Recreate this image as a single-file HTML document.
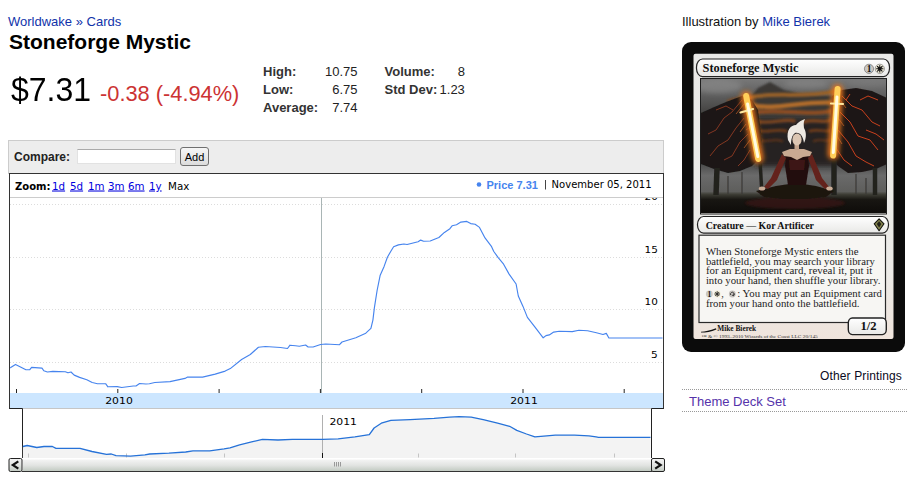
<!DOCTYPE html>
<html lang="en">
<head>
<meta charset="utf-8">
<title>Stoneforge Mystic</title>
<style>
html,body{margin:0;padding:0;background:#fff;}
body{width:916px;height:479px;position:relative;overflow:hidden;font-family:"Liberation Sans",Arial,sans-serif;font-size:13px;color:#000;}
a{text-decoration:none;color:#1133aa;}
.abs{position:absolute;white-space:nowrap;}
#crumb{left:8px;top:14px;font-size:13px;line-height:16px;color:#1133aa;}
#title{left:9px;top:30px;font-size:21px;line-height:24px;font-weight:bold;color:#000;}
#price{left:10.5px;top:71.5px;font-size:33px;line-height:36px;color:#000;transform:scaleX(0.97);transform-origin:0 0;}
#change{left:100px;top:82px;font-size:21.8px;line-height:24px;color:#cc3333;}
#stats{left:263px;top:63px;border-collapse:collapse;font-size:13px;line-height:18px;color:#222;}
#stats td{padding:0;white-space:nowrap;}
#stats th{padding:0;text-align:left;font-weight:bold;color:#333;white-space:nowrap;}
#stats td{text-align:right;}
#cmpbox{left:8px;top:140px;width:654px;height:33px;border:1px solid #ccc;border-bottom:none;background:#ededed;}
#cmplabel{left:14px;top:149px;font-size:12px;line-height:16px;font-weight:bold;color:#222;}
#cmpinput{left:77px;top:149px;width:97px;height:13px;border:1px solid #e2e2e2;border-top-color:#aaa;background:#fff;}
#cmpbtn{left:180px;top:147px;width:27px;height:16px;padding-top:1px;border:1px solid #707070;border-radius:3px;background:linear-gradient(#f6f6f6,#dcdcdc);font-size:11px;line-height:17px;text-align:center;color:#000;}
#chart{left:8px;top:172px;}
#illus{left:682px;top:14px;font-size:13px;line-height:16px;color:#111;}
#card{left:682px;top:42px;width:223px;height:310px;}
#other{left:681px;top:368px;width:221px;text-align:right;font-size:12px;letter-spacing:0.13px;line-height:16px;color:#0a0a22;}
.dot{left:682px;width:225px;height:0;border-top:1px dotted #999;}
#theme{left:689px;top:393.6px;font-size:13px;line-height:16px;color:#5533aa;}
</style>
</head>
<body>
<div id="crumb" class="abs"><a href="#">Worldwake</a> » <a href="#">Cards</a></div>
<div id="title" class="abs">Stoneforge Mystic</div>
<div id="price" class="abs">$7.31</div>
<div id="change" class="abs">-0.38 (-4.94%)</div>
<table id="stats" class="abs">
<tr><th style="width:62px">High:</th><td style="width:31px">10.75</td><th style="width:55px;padding-left:27px">Volume:</th><td style="width:25px">8</td></tr>
<tr><th>Low:</th><td>6.75</td><th style="padding-left:27px">Std Dev:</th><td>1.23</td></tr>
<tr><th>Average:</th><td>7.74</td><th></th><td></td></tr>
</table>

<div id="cmpbox" class="abs"></div>
<div id="cmplabel" class="abs">Compare:</div>
<div id="cmpinput" class="abs"></div>
<div id="cmpbtn" class="abs">Add</div>

<svg id="chart" class="abs" width="658" height="302" viewBox="8 172 658 302" font-family="DejaVu Sans, Verdana, sans-serif" font-size="11">
<!-- CHART -->
<rect x="9.5" y="173.5" width="654" height="235" fill="#fff" stroke="#333"/>
<rect x="22.5" y="408.5" width="629" height="50" fill="#fff" stroke="none"/>
<line x1="10" x2="663" y1="197.5" y2="197.5" stroke="#ccc"/>
<clipPath id="plot"><rect x="10" y="198" width="653" height="195"/></clipPath>
<g clip-path="url(#plot)">
<line x1="10" x2="663" y1="204.5" y2="204.5" stroke="#dcdcdc" stroke-dasharray="1 2"/>
<line x1="10" x2="663" y1="257.5" y2="257.5" stroke="#dcdcdc" stroke-dasharray="1 2"/>
<line x1="10" x2="663" y1="309.5" y2="309.5" stroke="#dcdcdc" stroke-dasharray="1 2"/>
<line x1="10" x2="663" y1="362.5" y2="362.5" stroke="#dcdcdc" stroke-dasharray="1 2"/>
<line x1="321.5" x2="321.5" y1="198" y2="393" stroke="#a9b5b5"/>
<text x="644.5" y="199.9" fill="#000" font-size="9.5" textLength="13.3" lengthAdjust="spacingAndGlyphs">20</text>
<text x="644.5" y="252.9" fill="#000" font-size="9.5" textLength="13.3" lengthAdjust="spacingAndGlyphs">15</text>
<text x="644.5" y="304.9" fill="#000" font-size="9.5" textLength="13.3" lengthAdjust="spacingAndGlyphs">10</text>
<text x="651.0999999999999" y="357.9" fill="#000" font-size="9.5" textLength="6.7" lengthAdjust="spacingAndGlyphs">5</text>
<path d="M10.0,367.8 L10.7,367.6 L15.5,364.4 L20.5,367.0 L25.9,369.7 L29.8,369.7 L31.6,367.4 L42.0,368.1 L43.8,370.8 L47.4,372.0 L52.8,371.4 L65.3,371.7 L68.0,372.8 L71.0,372.0 L74.2,375.1 L79.6,377.4 L86.8,379.8 L92.2,382.5 L97.5,383.7 L105.6,383.7 L107.9,386.8 L117.2,386.6 L121.7,387.5 L133.3,386.0 L136.0,386.0 L139.6,383.5 L145.9,384.0 L149.4,383.7 L154.8,382.5 L170.0,381.6 L185.0,378.4 L187.6,377.1 L202.6,377.1 L215.2,374.1 L225.2,371.1 L230.3,368.6 L241.6,359.5 L250.3,354.5 L258.4,347.2 L265.4,346.5 L280.5,347.5 L287.5,348.5 L290.0,345.2 L295.5,345.7 L299.3,346.2 L305.6,345.0 L308.1,347.0 L313.1,347.0 L320.6,344.5 L325.7,344.0 L339.5,344.7 L342.0,342.0 L355.8,337.7 L365.8,333.2 L370.9,328.4 L372.9,320.1 L374.4,307.6 L377.1,290.5 L380.2,275.2 L384.1,266.4 L387.4,257.2 L390.7,251.5 L393.6,246.7 L398.4,244.9 L403.9,244.0 L407.1,244.5 L418.1,241.8 L420.7,240.1 L423.6,241.2 L430.2,241.0 L438.9,237.5 L444.4,232.4 L449.9,228.7 L452.1,225.8 L456.5,224.7 L460.9,222.1 L466.8,221.4 L470.7,223.6 L475.1,224.3 L479.5,227.4 L485.0,237.9 L491.6,246.7 L493.8,251.5 L498.2,257.6 L503.6,264.2 L509.1,274.1 L516.1,284.0 L518.3,296.0 L523.0,306.4 L527.4,317.4 L535.0,327.2 L543.2,337.8 L546.0,335.6 L549.3,334.9 L553.7,332.1 L559.2,331.2 L572.3,331.6 L578.9,330.3 L587.6,330.8 L596.4,332.7 L603.0,334.5 L606.3,333.4 L608.9,338.0 L662.5,338.0" fill="none" stroke="#4684ee" stroke-width="1.15" stroke-linejoin="round"/>
</g>
<line x1="16.5" x2="16.5" y1="389" y2="393" stroke="#222"/>
<line x1="117.8" x2="117.8" y1="389" y2="393" stroke="#222"/>
<line x1="219.1" x2="219.1" y1="389" y2="393" stroke="#222"/>
<line x1="320.4" x2="320.4" y1="389" y2="393" stroke="#222"/>
<line x1="421.7" x2="421.7" y1="389" y2="393" stroke="#222"/>
<line x1="523.0" x2="523.0" y1="389" y2="393" stroke="#222"/>
<line x1="624.2" x2="624.2" y1="389" y2="393" stroke="#222"/>
<rect x="10" y="393" width="653" height="15" fill="#cce6ff"/>
<text x="105.2" y="404" fill="#000" font-size="9.5" textLength="27.6" lengthAdjust="spacingAndGlyphs">2010</text>
<text x="510.2" y="404" fill="#000" font-size="9.5" textLength="27.6" lengthAdjust="spacingAndGlyphs">2011</text>
<text x="15" y="189.5" font-weight="bold" fill="#000" font-size="10.4" textLength="35.5" lengthAdjust="spacingAndGlyphs">Zoom:</text>
<text x="52" y="189.5" fill="#0000dd" font-size="10.3" text-decoration="underline">1d</text>
<text x="70" y="189.5" fill="#0000dd" font-size="10.3" text-decoration="underline">5d</text>
<text x="88" y="189.5" fill="#0000dd" font-size="10.3" text-decoration="underline">1m</text>
<text x="108" y="189.5" fill="#0000dd" font-size="10.3" text-decoration="underline">3m</text>
<text x="128" y="189.5" fill="#0000dd" font-size="10.3" text-decoration="underline">6m</text>
<text x="149" y="189.5" fill="#0000dd" font-size="10.3" text-decoration="underline">1y</text>
<text x="168" y="189.5" fill="#000" font-size="10.3">Max</text>
<circle cx="479" cy="184.5" r="2.3" fill="#4684ee"/>
<text x="486.5" y="189" font-family="Liberation Sans, Arial, sans-serif" font-weight="bold" font-size="11" fill="#4684ee">Price 7.31</text>
<line x1="545.5" x2="545.5" y1="180" y2="189.5" stroke="#444"/>
<text x="551.6" y="188.3" fill="#000" font-size="9.7" textLength="100" lengthAdjust="spacingAndGlyphs">November 05, 2011</text>
<line x1="22" x2="652" y1="408.5" y2="408.5" stroke="#c6c6c6"/>
<path d="M9.5,408.5 H22.5 V458" fill="none" stroke="#222"/>
<path d="M663.5,408.5 H651.5 V458" fill="none" stroke="#222"/>
<path d="M22.9,446.5 L27.2,445.5 L36.8,447.5 L44.0,446.5 L52.4,446.5 L56.0,448.4 L80.0,448.4 L92.0,451.5 L106.5,454.4 L111.3,454.0 L116.0,455.6 L130.5,456.1 L144.9,454.9 L149.7,454.0 L168.9,453.2 L185.7,452.0 L192.9,450.8 L209.7,450.8 L224.1,448.9 L230.0,447.9 L239.6,444.8 L251.6,441.9 L262.4,439.3 L278.0,440.0 L292.4,439.3 L322.5,439.3 L338.1,438.8 L354.9,436.9 L369.3,434.7 L374.1,428.0 L381.3,423.2 L390.9,420.3 L410.1,419.6 L434.1,418.4 L449.6,417.2 L459.2,416.7 L471.2,417.2 L483.2,419.6 L497.6,423.2 L509.6,426.3 L516.8,430.4 L526.5,434.0 L534.9,436.9 L540.9,436.4 L555.3,435.2 L574.5,435.2 L588.9,435.9 L596.1,436.9 L598.5,437.4 L650.5,437.4 L650.5,458 L22.9,458 Z" fill="#f3f3f3" stroke="none"/>
<line x1="322.5" x2="322.5" y1="415" y2="457" stroke="#b0b0b0"/>
<line x1="28.5" x2="28.5" y1="453.5" y2="457.5" stroke="#c4c4c4"/>
<line x1="126.5" x2="126.5" y1="453.5" y2="457.5" stroke="#c4c4c4"/>
<line x1="224.5" x2="224.5" y1="453.5" y2="457.5" stroke="#c4c4c4"/>
<line x1="322.5" x2="322.5" y1="453.5" y2="457.5" stroke="#c4c4c4"/>
<line x1="418.5" x2="418.5" y1="453.5" y2="457.5" stroke="#c4c4c4"/>
<line x1="515.5" x2="515.5" y1="453.5" y2="457.5" stroke="#c4c4c4"/>
<line x1="614.5" x2="614.5" y1="453.5" y2="457.5" stroke="#c4c4c4"/>
<line x1="322.5" x2="322.5" y1="453" y2="458" stroke="#111"/>
<path d="M22.9,446.5 L27.2,445.5 L36.8,447.5 L44.0,446.5 L52.4,446.5 L56.0,448.4 L80.0,448.4 L92.0,451.5 L106.5,454.4 L111.3,454.0 L116.0,455.6 L130.5,456.1 L144.9,454.9 L149.7,454.0 L168.9,453.2 L185.7,452.0 L192.9,450.8 L209.7,450.8 L224.1,448.9 L230.0,447.9 L239.6,444.8 L251.6,441.9 L262.4,439.3 L278.0,440.0 L292.4,439.3 L322.5,439.3 L338.1,438.8 L354.9,436.9 L369.3,434.7 L374.1,428.0 L381.3,423.2 L390.9,420.3 L410.1,419.6 L434.1,418.4 L449.6,417.2 L459.2,416.7 L471.2,417.2 L483.2,419.6 L497.6,423.2 L509.6,426.3 L516.8,430.4 L526.5,434.0 L534.9,436.9 L540.9,436.4 L555.3,435.2 L574.5,435.2 L588.9,435.9 L596.1,436.9 L598.5,437.4 L650.5,437.4" fill="none" stroke="#2672d8" stroke-width="1.3" stroke-linejoin="round"/>
<text x="329.4" y="425" fill="#000" font-size="9.5" textLength="27.6" lengthAdjust="spacingAndGlyphs">2011</text>
<defs><linearGradient id="sb" x1="0" y1="0" x2="0" y2="1"><stop offset="0" stop-color="#f4f4f4"/><stop offset="0.5" stop-color="#e2e4e2"/><stop offset="1" stop-color="#c2cac2"/></linearGradient></defs>
<rect x="23" y="458" width="628" height="1.5" fill="#fff"/>
<rect x="23" y="459.5" width="628" height="11.5" fill="url(#sb)"/>
<line x1="22" x2="652" y1="471.5" y2="471.5" stroke="#333"/>
<line x1="334.5" x2="334.5" y1="462" y2="466.5" stroke="#999"/>
<line x1="336.5" x2="336.5" y1="462" y2="466.5" stroke="#999"/>
<line x1="338.5" x2="338.5" y1="462" y2="466.5" stroke="#999"/>
<line x1="340.5" x2="340.5" y1="462" y2="466.5" stroke="#999"/>
<rect x="9" y="458.5" width="13" height="13" rx="1.5" fill="url(#sb)" stroke="#222"/>
<path d="M18.3,461.3 L12.8,465 L18.3,468.7" fill="none" stroke="#111" stroke-width="2.2"/>
<rect x="651.5" y="458.5" width="13" height="13" rx="1.5" fill="url(#sb)" stroke="#222"/>
<path d="M655.2,461.3 L660.7,465 L655.2,468.7" fill="none" stroke="#111" stroke-width="2.2"/>
</svg>

<div id="illus" class="abs">Illustration by <a href="#">Mike Bierek</a></div>
<div id="card" class="abs">
<!-- CARD -->
<svg width="223" height="310" viewBox="682 42 223 310" style="display:block">
<defs>
<filter id="b1" x="-50%" y="-20%" width="200%" height="140%"><feGaussianBlur stdDeviation="1.2"/></filter>
<filter id="b2" x="-50%" y="-50%" width="200%" height="200%"><feGaussianBlur stdDeviation="2.5"/></filter>
<filter id="b3" x="-20%" y="-20%" width="140%" height="140%"><feGaussianBlur stdDeviation="0.6"/></filter>
<linearGradient id="sky" x1="0" y1="0" x2="0" y2="1"><stop offset="0" stop-color="#787878"/><stop offset="0.12" stop-color="#5e5e5e"/><stop offset="0.3" stop-color="#3a3836"/><stop offset="0.5" stop-color="#2b2927"/><stop offset="0.64" stop-color="#4e4e4e"/><stop offset="0.72" stop-color="#6a6a6a"/><stop offset="0.84" stop-color="#5e5e5c"/><stop offset="0.86" stop-color="#3e3e36"/><stop offset="0.9" stop-color="#181612"/><stop offset="1" stop-color="#0e0c0a"/></linearGradient>
<linearGradient id="frame" x1="0" y1="0" x2="0" y2="1"><stop offset="0" stop-color="#e9e9e7"/><stop offset="0.75" stop-color="#ecebe8"/><stop offset="1" stop-color="#efe4dc"/></linearGradient>
<linearGradient id="bar" x1="0" y1="0" x2="0" y2="1"><stop offset="0" stop-color="#ffffff"/><stop offset="1" stop-color="#e8e8e6"/></linearGradient>
<clipPath id="art"><rect x="701" y="79" width="185" height="134.5"/></clipPath>
</defs>
<rect x="682" y="42" width="223" height="310" rx="9" ry="9" fill="#0b0b0b"/>
<rect x="693.5" y="53.7" width="200" height="285.3" rx="2" fill="url(#frame)"/>
<g clip-path="url(#art)">
<rect x="701" y="79" width="185.5" height="134" fill="url(#sky)"/>
<ellipse cx="718" cy="86" rx="24" ry="7" fill="#8c8c8c" opacity="0.6" filter="url(#b2)"/>
<ellipse cx="806" cy="84" rx="22" ry="5" fill="#8a8a8a" opacity="0.55" filter="url(#b2)"/><ellipse cx="868" cy="82" rx="20" ry="5" fill="#7c7c7c" opacity="0.5" filter="url(#b2)"/>
<path d="M748,100 L758,88 L770,82 L784,90 L800,94 L834,96 L834,112 L748,114 Z" fill="#3a3836" filter="url(#b1)"/>
<rect x="756" y="120" width="80" height="46" fill="#262321" filter="url(#b2)"/>
<g filter="url(#b1)" fill="none" stroke-linecap="round">
<path d="M748,98 C770,91 800,99 837,91" stroke="#96602a" stroke-width="4"/>
<path d="M750,105 C775,111 805,100 836,103" stroke="#b06c2c" stroke-width="4.5"/>
<path d="M752,113 C780,108 810,117 835,110" stroke="#8e4e24" stroke-width="4"/>
<path d="M754,121 C770,125 785,118 794,121" stroke="#7a4420" stroke-width="3.5"/>
<path d="M804,122 C816,118 826,125 834,118" stroke="#7a4420" stroke-width="3.5"/>
<path d="M757,130 C766,134 776,128 786,131" stroke="#6a3a1c" stroke-width="3"/>
<path d="M810,131 C820,128 828,134 834,129" stroke="#6a3a1c" stroke-width="3"/>
<path d="M759,140 C766,143 774,138 782,141" stroke="#55301a" stroke-width="2.5"/>
<path d="M814,141 C821,138 828,143 833,139" stroke="#55301a" stroke-width="2.5"/>
<path d="M728,101 C735,97 741,99 746,97" stroke="#7a4a24" stroke-width="2.5"/>
<path d="M838,93 C846,90 852,94 860,91" stroke="#8a4a24" stroke-width="2.5"/>
</g>
<path d="M701,113 L712,108 L726,102 L742,96 L752,100 L758,110 L762,140 L760,158 L752,166 L740,171 L728,173 L714,169 L701,164 Z" fill="#1a1817" filter="url(#b3)"/>
<path d="M832,96 L842,90 L856,88 L872,91 L887,98 L887,164 L876,169 L862,172 L848,173 L838,166 L832,160 L830,131 Z" fill="#1c1716" filter="url(#b3)"/>
<g fill="none" stroke="#8e3a22" stroke-width="0.9" filter="url(#b3)">
<path d="M742,100 L732,112 L724,118 L716,130 L708,134 M744,118 L736,128 L728,140 L718,146 L710,156 M748,134 L740,142 L732,156 L724,160 M750,150 L744,160 L738,166 M733,110 L726,106 L716,110 M752,126 L746,130"/>
</g>
<g fill="none" stroke="#c8401e" stroke-width="1" filter="url(#b3)">
<path d="M842,96 L852,106 L862,110 L872,122 L880,126 M840,112 L850,122 L858,136 L870,140 L878,150 M838,130 L848,142 L856,156 L866,162 L874,166 M836,148 L844,160 L852,166 M860,100 L868,96 L878,100 M866,130 L876,134 L884,140 M846,100 L850,94"/>
</g>
<g fill="none" stroke="#e8702a" stroke-width="0.6"><path d="M744,104 L736,114 M746,124 L740,132 M750,140 L744,148 M840,100 L846,108 M838,118 L844,126 M837,136 L842,144"/></g>
<g stroke="#24221f" filter="url(#b3)" fill="none"><path d="M717,168 L716,195" stroke-width="5.5"/><path d="M834,160 L834,195" stroke-width="5.5"/><path d="M875,168 L875,195" stroke-width="4.5"/><path d="M760,160 L762,195" stroke-width="3.5"/><path d="M742,172 L742,194 M856,174 L856,194 M728,176 L728,194 M866,178 L866,194" stroke-width="1.2" stroke="#3a3836"/></g>
<ellipse cx="795" cy="203" rx="50" ry="6" fill="#3a1612" opacity="0.7" filter="url(#b1)"/>
<g filter="url(#b2)" fill="none" stroke="#ea761a" stroke-linecap="round"><path d="M746.2,97 L758,158" stroke-width="11"/><path d="M837.5,90 L833.2,154" stroke-width="11"/></g>
<g filter="url(#b3)" fill="none" stroke-linecap="round"><path d="M746.2,96 L758.2,159" stroke="#ffcf5a" stroke-width="6"/><path d="M837.6,89 L833.1,155.5" stroke="#ffcf5a" stroke-width="6"/><path d="M740.5,112.5 L753,109" stroke="#ffe9a0" stroke-width="2.2"/><path d="M831,103.5 L843,104" stroke="#ffe9a0" stroke-width="2.2"/></g>
<g fill="none" stroke="#fffbe2" stroke-linecap="round" filter="url(#b3)"><path d="M747.6,104 L757.8,156.5" stroke-width="3"/><path d="M837,97 L833.3,152.5" stroke-width="3"/></g>
<g filter="url(#b3)">
<path d="M756,191 L776,186 L796,183 L816,186 L834,191 L826,197 L808,199 L782,199 L764,197 Z" fill="#1e1410"/>
<path d="M786,155 L808,155 L809,166 L806,185 L788,185 L785,166 Z" fill="#24100e"/>
<path d="M789,160 L805,160 L804,170 L790,170 Z" fill="#3e1813"/>
<path d="M782,154 L786,158 L777,180 L768,189 L764,187 L771,178 Z" fill="#64241a"/>
<path d="M812,154 L808,158 L816,180 L825,189 L829,187 L822,178 Z" fill="#64241a"/>
<path d="M782,152 L790,149 L804,149 L812,152 L810,156 L803,157 L797,160 L791,157 L784,156 Z" fill="#c9aa92"/>
<rect x="794.5" y="144" width="4.5" height="6" fill="#c4a48c"/>
<ellipse cx="797" cy="139.5" rx="4.6" ry="6" fill="#dcc6b2"/>
<path d="M788,140 C786,130 791,125 796,125 C798,122 802,120 805,119 C803,123 804,126 804,128 C807,133 806,139 804,143 C803,136 800,132 795,133 C792,135 791,140 791,145 Z" fill="#eee9e2"/>
<ellipse cx="762" cy="188.5" rx="3.2" ry="2" fill="#c9ac96"/><ellipse cx="829.5" cy="188.5" rx="3.2" ry="2" fill="#c9ac96"/>
</g>
</g>
<rect x="700.5" y="78.5" width="186" height="135.5" fill="none" stroke="#1e1e1e" stroke-width="1"/>
<rect x="696.5" y="59" width="193" height="17.6" rx="6" ry="8" fill="url(#bar)" stroke="#222" stroke-width="1.2"/>
<text x="702.6" y="72" font-family="Liberation Serif, Times New Roman, serif" font-weight="bold" font-size="12.4" textLength="95.8" lengthAdjust="spacingAndGlyphs" fill="#111">Stoneforge Mystic</text>
<circle cx="869" cy="68.8" r="4.6" fill="#cbc7c2" stroke="#444" stroke-width="0.5"/>
<text x="869" y="72.2" text-anchor="middle" font-family="Liberation Serif, serif" font-weight="bold" font-size="9.5" fill="#111">1</text>
<circle cx="879.8" cy="68.8" r="4.6" fill="#f4f0dc" stroke="#444" stroke-width="0.5"/>
<g stroke="#111" stroke-width="1.1" stroke-linecap="round"><path d="M879.8,65.6 V72 M876.6,68.8 H883 M877.5,66.5 L882.1,71.1 M882.1,66.5 L877.5,71.1"/></g><circle cx="879.8" cy="68.8" r="1.5" fill="#111"/>
<rect x="697.5" y="216.5" width="191" height="16.6" rx="6" ry="8" fill="url(#bar)" stroke="#222" stroke-width="1.2"/>
<text x="705.7" y="228.8" font-family="Liberation Serif, Times New Roman, serif" font-weight="bold" font-size="10.6" textLength="108.3" lengthAdjust="spacingAndGlyphs" fill="#111">Creature — Kor Artificer</text>
<path d="M879.1,218.8 L884,223.8 L879.1,230.7 L874.2,223.8 Z" fill="#85854e" stroke="#15150f" stroke-width="1.1" stroke-linejoin="round"/><path d="M879.1,221.2 L881.4,223.9 L879.1,227.6 L876.8,223.9 Z" fill="#23231a"/>
<rect x="699" y="235.2" width="186.5" height="87.3" fill="#f7f6f3" stroke="#2a2a2a" stroke-width="1.2"/>
<text x="705.9" y="255.3" textLength="152.6" font-family="Liberation Serif, Times New Roman, serif" font-size="10.2" fill="#1c1c1c" lengthAdjust="spacingAndGlyphs">When Stoneforge Mystic enters the</text>
<text x="705.9" y="264.8" textLength="168.9" font-family="Liberation Serif, Times New Roman, serif" font-size="10.2" fill="#1c1c1c" lengthAdjust="spacingAndGlyphs">battlefield, you may search your library</text>
<text x="705.9" y="274.3" textLength="166.4" font-family="Liberation Serif, Times New Roman, serif" font-size="10.2" fill="#1c1c1c" lengthAdjust="spacingAndGlyphs">for an Equipment card, reveal it, put it</text>
<text x="705.9" y="283.7" textLength="174.5" font-family="Liberation Serif, Times New Roman, serif" font-size="10.2" fill="#1c1c1c" lengthAdjust="spacingAndGlyphs">into your hand, then shuffle your library.</text>
<circle cx="709.3" cy="294" r="3.4" fill="#cbc7c2"/><text x="709.3" y="296.7" text-anchor="middle" font-family="Liberation Serif, serif" font-weight="bold" font-size="7.5" fill="#111">1</text>
<circle cx="717.2" cy="294" r="3.4" fill="#f1ecd6"/><g stroke="#222" stroke-width="0.9" stroke-linecap="round"><path d="M717.2,291.6 V296.4 M714.8,294 H719.6 M715.5,292.3 L718.9,295.7 M718.9,292.3 L715.5,295.7"/></g>
<text x="721.3" y="297.3" font-family="Liberation Serif, serif" font-size="10.2" fill="#2a2a2a">,</text>
<circle cx="732.3" cy="294" r="3.4" fill="#c4c0bc"/><path d="M730.6,295 A1.9,1.9 0 1 1 733.6,295.6 M733.9,293.7 L733.6,295.8 L731.8,295" fill="none" stroke="#222" stroke-width="0.8"/>
<text x="737.3" y="297.3" textLength="144.7" font-family="Liberation Serif, Times New Roman, serif" font-size="10.2" fill="#1c1c1c" lengthAdjust="spacingAndGlyphs">: You may put an Equipment card</text>
<text x="705.9" y="307" textLength="153.6" font-family="Liberation Serif, Times New Roman, serif" font-size="10.2" fill="#1c1c1c" lengthAdjust="spacingAndGlyphs">from your hand onto the battlefield.</text>
<path d="M701,331.8 C705,331.6 710,330.6 716,328.2 L716.4,329.4 C711,331.6 706,332.6 701,332.6 Z" fill="#111"/>
<text x="717.2" y="331" font-family="Liberation Serif, serif" font-weight="bold" font-size="7.6" textLength="39" lengthAdjust="spacingAndGlyphs" fill="#111">Mike Bierek</text>
<text x="701.3" y="337.8" font-family="Liberation Serif, serif" font-size="5" textLength="116.5" lengthAdjust="spacingAndGlyphs" fill="#333">™ &amp; © 1993–2010 Wizards of the Coast LLC 20/145</text>
<rect x="848.3" y="318" width="38" height="16.6" rx="4" ry="5" fill="url(#bar)" stroke="#222" stroke-width="1.4"/>
<text x="868.5" y="330" text-anchor="middle" font-family="Liberation Serif, serif" font-weight="bold" font-size="12.6" fill="#111">1/2</text>
</svg>
</div>
<div id="other" class="abs">Other Printings</div>
<div class="abs dot" style="top:389px"></div>
<div id="theme" class="abs">Theme Deck Set</div>
<div class="abs dot" style="top:411px"></div>
</body>
</html>
